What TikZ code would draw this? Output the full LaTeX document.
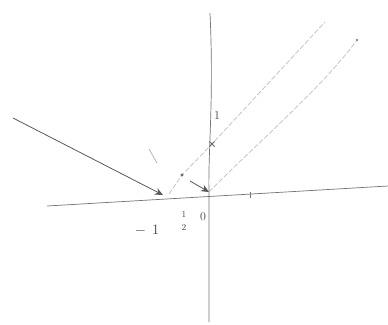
\documentclass[tikz,border=0pt]{standalone}
\usetikzlibrary{arrows.meta,calc}
\begin{document}
\begin{tikzpicture}[x=1pt,y=-1pt,
  axis/.style={draw=black!55,line width=0.7pt},
  dark/.style={draw=black!65,line width=0.8pt},
  faint/.style={draw=black!25,line width=0.7pt,dash pattern=on 5pt off 2pt},
  lbl/.style={text=black!75,inner sep=0pt}]
\useasboundingbox[fill=white] (0,0) rectangle (388,324);
% axis points
\coordinate (xl) at (47,206);
\coordinate (xr) at (388,186);
\coordinate (yt) at (210,13);
\coordinate (yb) at (209,322);
\coordinate (o) at (209,192);
\coordinate (m1) at (163,195);
\coordinate (yl) at (13,118);
\coordinate (sa) at (190,181);
\coordinate (d1) at (169,194);
\coordinate (d2) at (182,175);
\coordinate (d3) at (212,144);
\coordinate (d4) at (325,22);
\coordinate (r1) at (357,40);
\coordinate (t1) at (250,192);
\coordinate (t1b) at (250,198);
\coordinate (s1) at (149,149);
\coordinate (s2) at (157,163);
% axes
\draw[axis] (xl) -- (xr);
\draw[axis] (yt) .. controls (214,100) and (208,150) .. (o) -- (yb);
\draw[axis] (t1) -- (t1b);
% solid arrows
\draw[dark,-{Stealth[length=8pt,width=7pt]}] (yl) -- (m1);
\draw[dark,-{Stealth[length=8pt,width=7pt]}] (sa) -- (o);
% faint dashed lines
\draw[faint] (d1) -- (d2) -- (d3) -- (d4);
\draw[faint] (o) .. controls (260,140) and (320,90) .. (r1);
\draw[black!30,line width=0.7pt] (s1) -- (s2);
\fill[black!60] (d2) circle (1.6pt);
\fill[black!45] (r1) circle (1.3pt);
\draw[black!60,line width=1pt] ($(d3)+(-2.5,-2.5)$) -- ($(d3)+(2.5,2.5)$);
\draw[black!60,line width=1pt] ($(d3)+(-2.5,2.5)$) -- ($(d3)+(2.5,-2.5)$);
% labels
\node[lbl,font=\large] (l1) at (217,116) {1};
\node[lbl,font=\Large] (lm1) at (147,230) {$-$\hspace{6pt}1};
\node[lbl,font=\small] (lh) at (184,221) {\shortstack{1\\[5pt]2}};
\node[lbl,font=\large] (l0) at (203,217) {0};
\end{tikzpicture}
\end{document}
